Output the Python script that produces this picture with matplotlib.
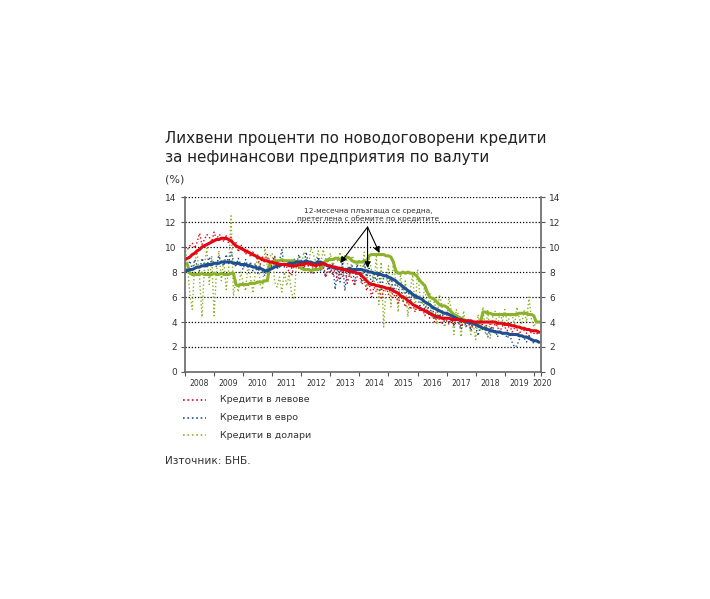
import matplotlib.pyplot as plt
import numpy as np
from matplotlib.lines import Line2D

# monthly data Jan 2008 - Mar 2020
bgn = [10.0, 9.8, 10.1, 10.3, 9.9, 10.4, 11.1, 10.2, 10.6, 11.0, 10.8, 10.4,
       11.2, 10.6, 11.0, 10.9, 10.4, 10.9, 10.3, 10.8, 10.1, 10.4, 9.6, 10.2,
       9.9, 9.4, 9.8, 9.2, 9.6, 9.3, 9.0, 8.6, 9.2, 8.9, 9.4, 8.2,
       8.6, 9.2, 8.5, 8.4, 8.9, 8.7, 8.4, 8.0, 7.7, 8.5, 8.9, 8.3,
       8.8, 8.2, 8.9, 8.4, 7.9, 8.6, 8.3, 9.0, 8.1, 8.4, 7.6, 8.0,
       8.5, 7.7, 8.3, 7.3, 8.1, 7.6, 8.4, 7.1, 7.9, 7.4, 6.9, 7.6,
       7.8, 7.0, 7.4, 6.5, 7.2, 6.0, 6.8, 6.4, 7.0, 5.8, 6.5, 6.9,
       6.2, 6.8, 5.9, 6.4, 5.5, 6.1, 5.7, 5.2, 5.8, 5.0, 5.4, 4.8,
       5.4, 4.8, 5.1, 4.5, 5.0, 4.3, 4.7, 4.0, 4.5, 4.2, 3.8, 4.4,
       4.1, 3.8, 4.3, 3.7, 4.0, 4.2, 3.6, 4.1, 3.8, 4.0, 3.5, 4.0,
       3.9, 3.6, 4.1, 3.7, 3.5, 4.0, 3.8, 3.4, 3.9, 3.6, 3.2, 3.7,
       3.6, 3.3, 3.8, 3.2, 3.5, 3.4, 3.0, 3.5, 3.3, 3.1, 2.9, 3.2,
       3.1, 3.0, 3.2]
bgn_ma = [9.0, 9.1, 9.2, 9.4, 9.5, 9.7, 9.8, 10.0, 10.1, 10.2, 10.3, 10.4,
          10.5, 10.6, 10.6, 10.7, 10.7, 10.7, 10.6, 10.5, 10.3, 10.1, 10.0, 9.9,
          9.8, 9.7, 9.6, 9.5, 9.4, 9.3, 9.2, 9.1, 9.0, 8.9, 8.9, 8.8,
          8.8, 8.7, 8.7, 8.6, 8.6, 8.6, 8.6, 8.5, 8.5, 8.5, 8.5, 8.6,
          8.6, 8.6, 8.7, 8.7, 8.6, 8.6, 8.5, 8.6, 8.6, 8.7, 8.6, 8.5,
          8.5, 8.4, 8.4, 8.3, 8.3, 8.2, 8.2, 8.1, 8.1, 8.0, 8.0, 7.9,
          7.9, 7.7, 7.5, 7.3, 7.1, 7.0, 7.0, 6.9, 6.9, 6.8, 6.8, 6.7,
          6.7, 6.6, 6.5, 6.4, 6.3, 6.1, 6.0, 5.9, 5.7, 5.6, 5.4, 5.3,
          5.2, 5.1, 5.0, 4.9, 4.8, 4.7, 4.6, 4.5, 4.4, 4.4, 4.3, 4.3,
          4.3, 4.3, 4.2, 4.2, 4.2, 4.2, 4.1, 4.1, 4.1, 4.1, 4.1, 4.0,
          4.0, 4.0, 4.0, 4.0, 4.0, 4.0, 4.0, 4.0, 4.0, 3.9, 3.9, 3.9,
          3.8, 3.8, 3.8, 3.7, 3.7, 3.6, 3.6, 3.5, 3.5, 3.4, 3.4, 3.3,
          3.3, 3.3, 3.2]

eur = [7.9, 8.4, 8.9, 8.2, 9.0, 8.5, 8.1, 9.1, 8.6, 8.3, 9.2, 8.7,
       8.9, 8.4, 9.3, 8.8, 8.5, 9.4, 8.7, 9.6, 8.9, 8.4, 9.1, 8.6,
       8.2, 9.0, 8.4, 8.8, 8.1, 8.7, 7.9, 8.5, 8.0, 7.7, 8.4, 8.0,
       8.8, 9.3, 8.2, 8.9, 9.8, 8.4, 8.7, 9.0, 8.3, 9.1, 8.6, 9.4,
       8.9, 8.2, 9.6, 8.5, 8.9, 7.8, 8.6, 9.2, 8.1, 8.8, 7.6, 8.4,
       7.9, 8.6, 6.6, 8.4, 7.2, 8.8, 6.5, 8.3, 7.9, 8.5, 7.0, 8.6,
       8.1, 7.2, 8.7, 7.6, 8.3, 6.9, 7.8, 7.3, 8.0, 6.6, 7.5, 7.9,
       7.0, 7.6, 6.4, 7.2, 6.8, 5.9, 6.9, 6.2, 6.6, 5.6, 6.3, 5.8,
       6.0, 5.3, 5.9, 5.0, 5.6, 4.6, 5.3, 4.3, 5.0, 4.4, 4.8, 4.0,
       4.6, 4.0, 4.5, 3.7, 4.4, 3.9, 3.4, 4.2, 3.6, 4.0, 3.3, 3.9,
       3.6, 2.9, 3.8, 3.3, 3.5, 2.8, 3.6, 3.1, 3.4, 2.8, 3.3, 3.0,
       3.2, 2.7, 3.0, 2.4, 2.0, 2.1, 2.6, 3.0, 2.7, 2.4, 2.9, 2.5,
       2.3, 2.6, 2.4]
eur_ma = [8.1, 8.1, 8.2, 8.2, 8.3, 8.4, 8.4, 8.5, 8.5, 8.6, 8.6, 8.6,
          8.7, 8.7, 8.7, 8.8, 8.8, 8.8, 8.8, 8.8, 8.7, 8.7, 8.7, 8.6,
          8.6, 8.6, 8.5, 8.5, 8.4, 8.4, 8.3, 8.3, 8.2, 8.1, 8.1, 8.2,
          8.3, 8.4, 8.5, 8.5, 8.6, 8.6, 8.6, 8.7, 8.7, 8.7, 8.8, 8.8,
          8.8, 8.8, 8.9, 8.8, 8.8, 8.7, 8.7, 8.8, 8.8, 8.7, 8.6, 8.5,
          8.4, 8.4, 8.3, 8.3, 8.3, 8.2, 8.2, 8.2, 8.3, 8.2, 8.2, 8.2,
          8.2, 8.2, 8.1, 8.1, 8.0, 8.0, 7.9, 7.9, 7.8, 7.8, 7.7, 7.7,
          7.6, 7.5, 7.4, 7.3, 7.1, 7.0, 6.8, 6.7, 6.5, 6.4, 6.2, 6.1,
          6.0, 5.9, 5.8, 5.6, 5.5, 5.4, 5.2, 5.1, 5.0, 4.9, 4.8, 4.7,
          4.7, 4.6, 4.5, 4.4, 4.3, 4.2, 4.2, 4.1, 4.0, 4.0, 3.9, 3.9,
          3.8, 3.7, 3.6, 3.5, 3.5, 3.4, 3.3, 3.3, 3.2, 3.2, 3.2, 3.1,
          3.1, 3.1, 3.0, 3.0, 3.0, 3.0, 2.9, 2.9, 2.8, 2.8, 2.7, 2.6,
          2.5, 2.5, 2.4]

usd = [10.0, 8.6, 6.2, 5.0, 8.8, 9.6, 7.5, 4.4, 8.5, 9.9, 7.0, 9.3,
       4.5, 8.1, 9.7, 7.3, 9.0, 6.6, 8.2, 12.5, 6.1, 7.4, 6.4, 8.0,
       7.1, 6.5, 8.6, 7.6, 6.3, 7.9, 9.5, 7.0, 6.6, 9.9, 8.4, 9.2,
       9.5, 7.2, 6.8, 7.6, 6.4, 8.0, 6.9, 7.8, 6.3, 5.8, 8.6, 9.2,
       8.3, 9.6, 9.0, 8.6, 9.9, 9.4, 8.8, 9.7, 8.5, 9.8, 9.1, 8.7,
       9.5, 8.4, 9.2, 8.9, 9.6, 8.2, 9.4, 8.8, 7.6, 9.3, 8.9, 8.5,
       9.0, 7.9, 9.6, 6.8, 9.2, 8.1, 7.0, 9.4, 5.4, 8.8, 3.6, 6.9,
       8.5, 5.2, 9.0, 7.1, 4.8, 8.0, 5.6, 7.4, 4.4, 6.6, 7.8, 5.0,
       8.2, 6.1, 5.5, 7.0, 4.6, 6.4, 4.3, 5.9, 3.8, 6.2, 5.4, 3.6,
       4.0, 6.0, 4.8, 3.0, 5.0, 4.5, 2.8, 4.9, 3.5, 4.2, 3.0, 3.8,
       2.6, 4.6, 3.3, 5.2, 3.1, 5.0, 2.7, 4.4, 4.9, 3.6, 4.8, 4.1,
       5.0, 3.9, 4.4, 4.7, 3.7, 5.2, 4.3, 3.8, 4.9, 4.0, 6.0, 4.2,
       3.6, 4.0, 3.9]
usd_ma = [8.7, 8.6, 7.9, 7.8, 7.8, 7.8, 7.8, 7.9, 7.8, 7.8, 7.8, 7.8,
          7.9, 7.8, 7.8, 7.9, 7.8, 7.8, 7.8, 7.9, 7.9, 7.0, 6.9, 7.0,
          7.0, 7.0, 7.0, 7.1, 7.1, 7.1, 7.2, 7.2, 7.2, 7.3, 7.3, 8.6,
          8.8, 8.9, 8.9, 8.9, 9.0, 8.9, 8.9, 8.9, 8.9, 8.9, 8.8, 8.5,
          8.3, 8.2, 8.2, 8.2, 8.1, 8.2, 8.2, 8.2, 8.3, 8.6, 8.9, 9.0,
          9.0, 9.0, 9.1, 9.1, 9.0, 9.1, 9.1, 9.2, 9.1, 8.9, 8.8, 8.8,
          8.8, 8.8, 8.9, 8.9, 9.3, 9.4, 9.4, 9.4, 9.4, 9.4, 9.4, 9.3,
          9.3, 9.2, 8.8, 8.1, 7.9, 7.9, 8.0, 7.9, 8.0, 7.9, 7.9, 7.8,
          7.6, 7.3, 7.1, 6.9, 6.4, 6.0, 5.9, 5.8, 5.6, 5.4, 5.3, 5.3,
          5.2, 5.0, 4.8, 4.6, 4.5, 4.4, 4.3, 4.2, 4.1, 4.0, 4.0, 4.0,
          3.9, 3.9, 4.0, 4.8, 4.8, 4.7, 4.7, 4.6, 4.6, 4.6, 4.6, 4.6,
          4.6, 4.6, 4.6, 4.6, 4.6, 4.6, 4.7, 4.7, 4.7, 4.7, 4.6, 4.6,
          4.5, 4.0, 4.0]

years = list(range(2008, 2021))
year_labels = [str(y) for y in years]
label_pos = [y + 0.5 for y in years[:-1]] + [2020.3]

red = '#e30613'
blue = '#1f4f8f'
green = '#8cb22b'
txt = '#333333'

x = 2008 + np.arange(len(bgn)) / 12.0

fig = plt.figure(figsize=(7.1, 5.99), dpi=100)
ax = fig.add_axes([0.2606, 0.379, 0.5015, 0.292])

ax.plot(x, usd, color=green, lw=1.0, ls=':')
ax.plot(x, eur, color=blue, lw=1.0, ls=':')
ax.plot(x, bgn, color=red, lw=1.0, ls=':')
ax.plot(x, usd_ma, color=green, lw=2.2)
ax.plot(x, eur_ma, color=blue, lw=2.2)
ax.plot(x, bgn_ma, color=red, lw=2.2)

ax.set_xlim(2008, 2020.25)
ax.set_ylim(0, 14)
for yv in range(2, 15, 2):
    ax.axhline(yv, color='black', lw=0.9, ls=(0, (1, 1.5)), zorder=0)

ax.set_yticks(range(0, 15, 2))
ax.tick_params(axis='y', labelsize=6.5, colors='#555555', labelcolor=txt, length=3,
               labelright=True, right=True, pad=3)
ax.set_xticks(years + [2020.25])
ax.set_xticklabels([])
ax.tick_params(axis='x', length=3, colors='#555555')
for p, lab in zip(label_pos, year_labels):
    ax.text(p, -0.9, lab, ha='center', va='center', fontsize=5.6, color=txt)

ax.spines['top'].set_visible(False)
for s in ['left', 'right', 'bottom']:
    ax.spines[s].set_color('#666666')
    ax.spines[s].set_linewidth(1.2)

# annotation with arrows
ax.text(2014.3, 13.15, '12-месечна плъзгаща се средна,\nпретеглена с обемите по кредитите',
        ha='center', va='top', fontsize=5.3, color=txt, linespacing=1.3)
for tx, ty in [(2013.34, 8.72), (2014.28, 8.32), (2014.69, 9.52)]:
    ax.annotate('', xy=(tx, ty), xytext=(2014.28, 11.6),
                arrowprops=dict(arrowstyle='-|>', color='black', lw=0.8,
                                mutation_scale=9, shrinkA=0, shrinkB=0))

# titles
fig.text(0.232, 1 - 138 / 599, 'Лихвени проценти по новодоговорени кредити',
         fontsize=10.9, color='#222222', va='center', ha='left')
fig.text(0.232, 1 - 157 / 599, 'за нефинансови предприятия по валути',
         fontsize=10.9, color='#222222', va='center', ha='left')
fig.text(0.233, 1 - 180 / 599, '(%)', fontsize=8, color=txt, va='center')

# legend drawn by hand
leg_colors = [red, blue, green]
labels = ['Кредити в левове', 'Кредити в евро', 'Кредити в долари']
for i, (c, lab) in enumerate(zip(leg_colors, labels)):
    yy = 1 - (400 + 17.5 * i) / 599
    fig.add_artist(Line2D([183 / 710, 206 / 710], [yy, yy], color=c, ls=':', lw=1.2))
    fig.text(220 / 710, yy, lab, fontsize=6.8, color=txt, va='center', ha='left')

fig.text(0.233, 1 - 461 / 599, 'Източник: БНБ.', fontsize=7.6, color=txt,
         va='center')

plt.savefig('out.png', dpi=100)
